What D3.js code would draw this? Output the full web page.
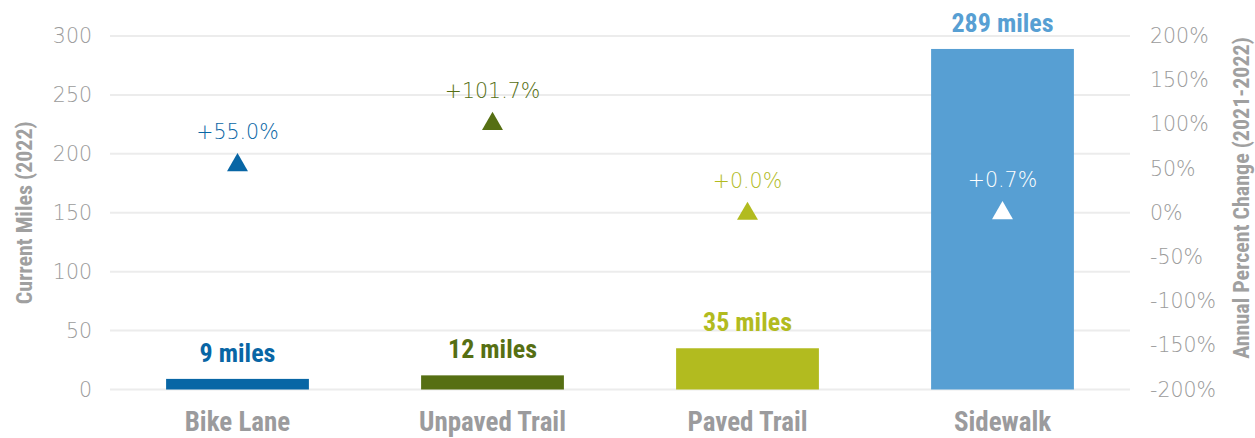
<!DOCTYPE html>
<html>
<head>
<meta charset="utf-8">
<script src="https://cdn.jsdelivr.net/npm/d3@7"></script>
<style>
  body { margin: 0; background: #fff; }
  .cond { font-family: "Roboto Condensed", "Liberation Sans Narrow", "Arial Narrow", sans-serif; font-weight: bold; }
  .reg { font-family: "DejaVu Sans", Roboto, sans-serif; font-weight: 200; }
</style>
</head>
<body>
<div id="chart"></div>
<script>
// data
var categories = ["Bike Lane", "Unpaved Trail", "Paved Trail", "Sidewalk"];
var miles = [9, 12, 35, 289];
var pctChange = [55.0, 101.7, 0.0, 0.7];
var colors = ["#0866a5", "#566f13", "#b2bb1f", "#579fd3"];
var pctColors = ["#0866a5", "#566f13", "#b2bb1f", "#ffffff"];
var leftTicks = [0, 50, 100, 150, 200, 250, 300];
var rightTicks = [-200, -150, -100, -50, 0, 50, 100, 150, 200];

var svgWidth = 1255;
var svgHeight = 438;

var margin = { top: 36, right: 125, bottom: 48.5, left: 110 };
var chartWidth = svgWidth - margin.left - margin.right;
var chartHeight = svgHeight - margin.top - margin.bottom;

var svg = d3.select("#chart").append("svg")
  .attr("width", svgWidth)
  .attr("height", svgHeight);

var chartGroup = svg.append("g")
  .attr("transform", `translate(${margin.left}, ${margin.top})`);

var xScale = d3.scaleBand()
  .domain(categories)
  .range([0, chartWidth])
  .paddingInner(0.44)
  .paddingOuter(0.22);

var yScale = d3.scaleLinear().domain([0, 300]).range([chartHeight, 0]);
var y2Scale = d3.scaleLinear().domain([-200, 200]).range([chartHeight, 0]);

// gridlines
chartGroup.append("g")
  .selectAll("line").data(leftTicks).enter().append("line")
  .attr("x1", 0).attr("x2", chartWidth)
  .attr("y1", d => yScale(d)).attr("y2", d => yScale(d))
  .attr("stroke", "#ececec")
  .attr("stroke-width", 2);

// left axis
var yAxis = d3.axisLeft(yScale).tickValues(leftTicks).tickSize(0).tickPadding(18);
var gy = chartGroup.append("g").call(yAxis);
gy.select(".domain").remove();
gy.selectAll("text").attr("class", "reg").attr("font-size", "20.5px").attr("fill", "#9b9b9b");

// right axis
var y2Axis = d3.axisRight(y2Scale).tickValues(rightTicks).tickSize(0).tickPadding(20)
  .tickFormat(d => d + "%");
var gy2 = chartGroup.append("g")
  .attr("transform", `translate(${chartWidth}, 0)`)
  .call(y2Axis);
gy2.select(".domain").remove();
gy2.selectAll("text").attr("class", "reg").attr("font-size", "20.5px").attr("fill", "#9b9b9b");

// x axis labels
var xAxis = d3.axisBottom(xScale).tickSize(0).tickPadding(22);
var gx = chartGroup.append("g")
  .attr("transform", `translate(0, ${chartHeight})`)
  .call(xAxis);
gx.select(".domain").remove();
gx.selectAll("text").attr("class", "cond").attr("font-size", "27px").attr("fill", "#9b9b9d");

// bars
chartGroup.selectAll(".bar").data(categories).enter().append("rect")
  .attr("class", "bar")
  .attr("x", d => xScale(d))
  .attr("width", xScale.bandwidth())
  .attr("y", (d, i) => yScale(miles[i]))
  .attr("height", (d, i) => chartHeight - yScale(miles[i]))
  .attr("fill", (d, i) => colors[i]);

// value labels
chartGroup.selectAll(".val").data(categories).enter().append("text")
  .attr("class", "cond")
  .attr("x", d => xScale(d) + xScale.bandwidth() / 2)
  .attr("y", (d, i) => yScale(miles[i]) - 17)
  .attr("text-anchor", "middle")
  .attr("font-size", "26px")
  .attr("fill", (d, i) => colors[i])
  .text((d, i) => `${miles[i]} miles`);

// percent change markers
var tri = d3.symbol().type(d3.symbolTriangle).size(190);
chartGroup.selectAll(".tri").data(categories).enter().append("path")
  .attr("d", tri)
  .attr("transform", (d, i) => `translate(${xScale(d) + xScale.bandwidth() / 2}, ${y2Scale(pctChange[i]) + 1})`)
  .attr("fill", (d, i) => pctColors[i]);

chartGroup.selectAll(".pct").data(categories).enter().append("text")
  .attr("class", "reg")
  .attr("x", d => xScale(d) + xScale.bandwidth() / 2)
  .attr("y", (d, i) => y2Scale(pctChange[i]) - 25)
  .attr("text-anchor", "middle")
  .attr("font-size", "20.5px")
  .attr("fill", (d, i) => pctColors[i])
  .text((d, i) => "+" + pctChange[i].toFixed(1) + "%");

// axis titles
svg.append("text")
  .attr("class", "cond")
  .attr("transform", `translate(32, ${margin.top + chartHeight / 2}) rotate(-90)`)
  .attr("text-anchor", "middle")
  .attr("font-size", "22px")
  .attr("fill", "#a0a0a0")
  .text("Current Miles (2022)");

svg.append("text")
  .attr("class", "cond")
  .attr("transform", "translate(1249, 198) rotate(-90)")
  .attr("text-anchor", "middle")
  .attr("font-size", "22px")
  .attr("fill", "#a0a0a0")
  .text("Annual Percent Change (2021-2022)");
</script>
</body>
</html>
